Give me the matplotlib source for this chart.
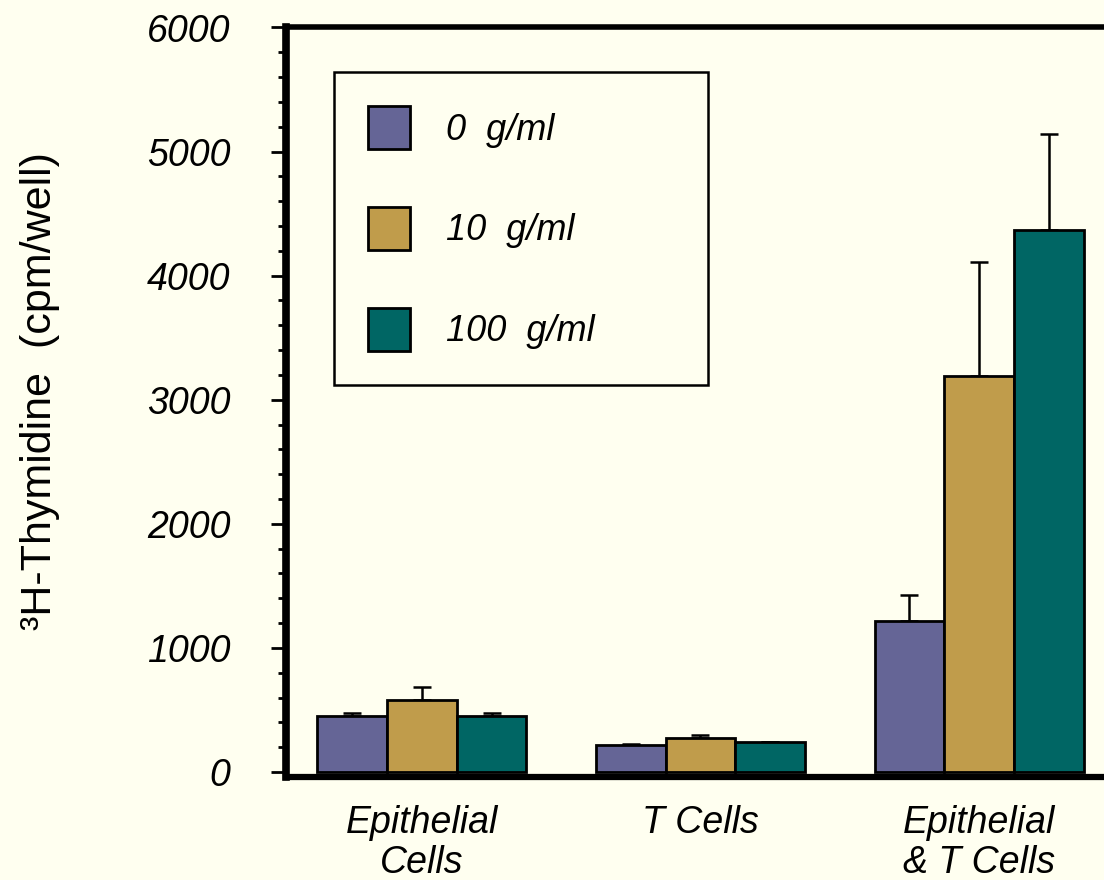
import numpy as np
import matplotlib
matplotlib.use("Agg")
import matplotlib.pyplot as plt
from matplotlib.ticker import MultipleLocator

# data
groups = ["Epithelial\nCells", "T Cells", "Epithelial\n& T Cells"]
doses = ["0  g/ml", "10  g/ml", "100  g/ml"]
means_0 = [450, 217, 1215]
means_10 = [579, 273, 3194]
means_100 = [450, 241, 4368]
err_0 = [25, 5, 209]
err_10 = [105, 25, 917]
err_100 = [25, 5, 773]

colors = ["#656596", "#C09C4B", "#006664"]
bg = "#FFFFF0"

plt.rcParams['font.family'] = ['Liberation Sans', 'DejaVu Sans']

fig = plt.figure(figsize=(11.04, 8.8), dpi=100, facecolor=bg)
# axes runs past the right edge of the figure, as in the reference
ax = fig.add_axes([286 / 1104, 103 / 880, 829 / 1104, 749.5 / 880])
ax.set_facecolor(bg)

x = np.arange(len(groups))
w = 0.25
series = [(means_0, err_0), (means_10, err_10), (means_100, err_100)]
for i, (m, e) in enumerate(series):
    pos = x + (i - 1) * w
    ax.bar(pos, m, width=w, color=colors[i], edgecolor="black",
           linewidth=2.0, label=doses[i], zorder=2)
    ax.errorbar(pos, m, yerr=[np.zeros(len(e)), e], fmt="none",
                ecolor="black", elinewidth=1.8, capsize=6.5, capthick=1.8,
                zorder=1)

ax.set_xlim(-0.488, 2.488)
ax.set_ylim(-40, 6000)

ax.yaxis.set_major_locator(MultipleLocator(1000))
ax.yaxis.set_minor_locator(MultipleLocator(200))
ax.tick_params(axis="y", which="major", direction="out", length=11,
               width=2, pad=29, labelsize=27)
ax.tick_params(axis="y", which="minor", direction="out", length=5.8,
               width=2)
for t in ax.get_yticklabels():
    t.set_fontstyle("italic")

ax.set_xticks(x)
ax.set_xticklabels(groups, fontsize=27, fontstyle="italic", linespacing=1.15)
ax.tick_params(axis="x", length=0, pad=20)

ax.spines["left"].set_linewidth(5.5)
ax.spines["bottom"].set_linewidth(4.5)
ax.spines["top"].set_linewidth(4)
ax.spines["right"].set_linewidth(4)

fig.text(40 / 1104, 1 - 391 / 880, "³H-Thymidine  (cpm/well)",
         rotation=90, ha="center", va="center", fontsize=31)

leg = ax.legend(loc="upper left", bbox_to_anchor=(0.058, 0, 0.451, 0.9406),
                mode="expand", borderaxespad=0, fancybox=False,
                frameon=True, edgecolor="black", facecolor=bg, framealpha=1,
                prop={"size": 26, "style": "italic"},
                handlelength=1.14, handleheight=1.45, handletextpad=1.0,
                labelspacing=1.6, borderpad=0.95)
leg.get_frame().set_linewidth(1.8)

fig.savefig("out.png", dpi=100, facecolor=bg)
